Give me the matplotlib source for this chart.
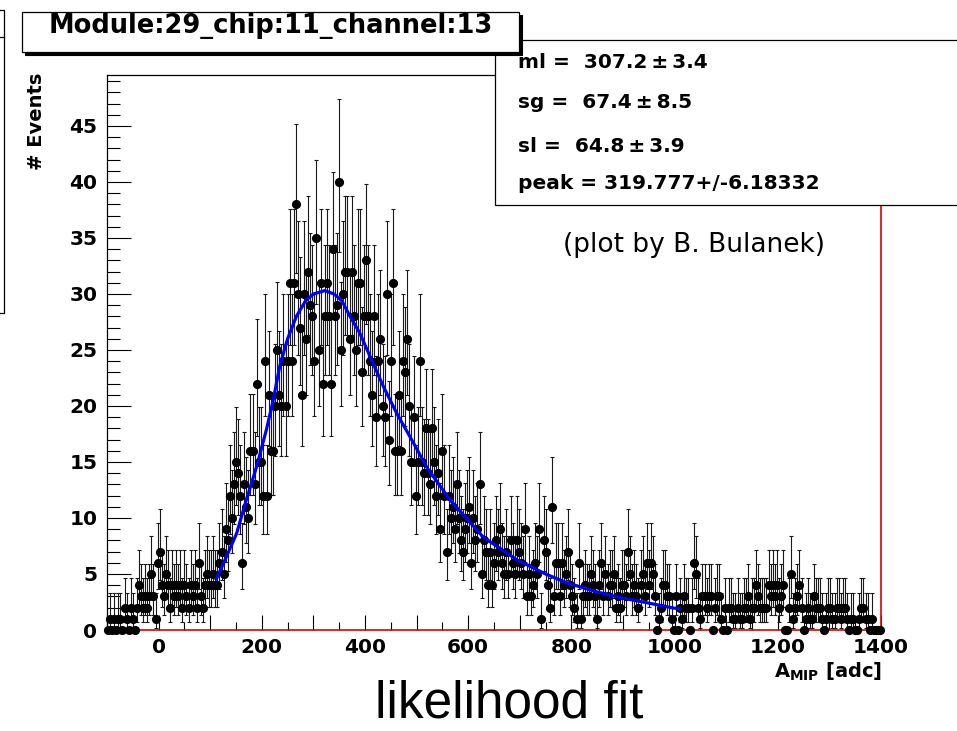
import numpy as np
import matplotlib
matplotlib.use("Agg")
import matplotlib.pyplot as plt
from matplotlib.patches import Rectangle
from matplotlib.lines import Line2D
from matplotlib.ticker import MultipleLocator, FuncFormatter

# ---------------- data ----------------
bin_lo = -100.0
bin_width = 4.0
counts_m100_0 = [0,1,0,1,0,1,1,0,2,1,0,2,1,0,2,4,3,2,3,2,3,5,3,1,6]
counts_0_100 = [7,4,3,5,4,2,4,3,4,3,4,2,4,3,2,4,3,4,2,6,3,2,4,5,4]
counts_100_200 = [4,5,4,4,6,7,5,9,8,12,10,13,15,14,12,6,13,11,10,16,16,13,22,15,15]
counts_200_300 = [12,24,12,21,16,16,20,25,21,20,24,20,24,31,24,31,38,30,27,21,30,26,32,29,28]
counts_300_400 = [24,35,25,31,22,28,31,28,22,34,28,29,40,25,30,32,32,26,32,28,25,31,31,23,28]
counts_400_500 = [33,28,24,21,28,19,24,26,20,19,30,17,24,31,16,16,21,16,24,23,26,20,15,19,12]
counts_500_600 = [15,24,15,14,18,14,13,18,15,12,14,9,16,12,7,12,10,11,9,13,10,8,7,9,10]
counts_600_700 = [11,6,10,8,9,13,5,8,7,4,7,4,6,8,7,9,6,5,7,5,8,6,5,8,7]
counts_700_800 = [6,5,9,3,5,3,4,6,5,9,1,8,7,4,2,11,3,6,6,3,6,4,5,7,4]
counts_800_900 = [3,2,1,6,1,3,4,3,3,5,4,3,1,4,6,3,5,3,4,4,5,2,3,2,4]
counts_900_1000 = [4,3,7,5,3,4,3,2,4,5,3,6,4,6,5,3,0,1,2,4,4,3,3,1,0]
counts_1000_1100 = [3,0,2,1,3,2,2,0,2,6,5,2,1,3,3,2,3,3,0,2,3,3,1,0,2]
counts_1100_1200 = [0,2,2,1,1,2,1,1,2,2,3,1,2,2,4,3,2,2,2,2,4,3,4,3,4]
counts_1200_1300 = [2,3,4,0,0,2,5,1,2,3,4,2,0,1,2,1,1,3,2,2,2,1,0,1,2]
counts_1300_1400 = [2,1,1,2,2,1,2,2,1,0,1,1,0,0,1,2,2,1,1,0,1,0,0,0,0]

fit_x = [112, 131, 151, 170, 190, 209, 222, 235, 250, 267, 285, 300, 322, 340,
         355, 371, 390, 410, 436, 462, 494, 520, 565, 629, 695, 750, 792, 850,
         889, 950, 998, 1010]
fit_y = [4.55, 6.5, 8.6, 11.6, 14.6, 17.9, 20.5, 23.6, 26.0, 28.0, 29.4, 30.0,
         30.3, 30.0, 29.4, 28.0, 26.5, 24.4, 21.7, 19.3, 16.7, 14.5, 11.6, 8.3,
         6.25, 5.0, 4.2, 3.4, 2.95, 2.4, 1.96, 1.9]

title_text = "Module:29_chip:11_channel:13"
stat_lines = ["ml =  307.2\u2009\u00b1\u20093.4",
              "sg =  67.4\u2009\u00b1\u20098.5",
              "sl =  64.8\u2009\u00b1\u20093.9",
              "peak = 319.777+/-6.18332"]
x_ticks_labelled = [0, 200, 400, 600, 800, 1000, 1200, 1400]

# ---------------- style ----------------
plt.rcParams['font.family'] = ['DejaVu Sans']
plt.rcParams['font.weight'] = 'bold'
plt.rcParams['mathtext.fontset'] = 'dejavusans'

W, H = 957, 731
fig = plt.figure(figsize=(W / 100, H / 100), dpi=100)
fig.patch.set_facecolor('white')

def fx(px):
    return px / W

def fy(py):
    return 1 - py / H

L, R, T, B = 107, 881, 75, 630
ax = fig.add_axes([fx(L), fy(B), (R - L) / W, (B - T) / H])

counts = np.array(counts_m100_0 + counts_0_100 + counts_100_200 + counts_200_300
                  + counts_300_400 + counts_400_500 + counts_500_600 + counts_600_700
                  + counts_700_800 + counts_800_900 + counts_900_1000 + counts_1000_1100
                  + counts_1100_1200 + counts_1200_1300 + counts_1300_1400, dtype=float)
centers = bin_lo + bin_width * (np.arange(len(counts)) + 0.5)

# Poisson (Garwood-like) asymmetric errors
nz = counts > 0
n = counts[nz]
lower = n - n * (1 - 1 / (9 * n) - 1 / (3 * np.sqrt(n))) ** 3
upper = (n + 1) * (1 - 1 / (9 * (n + 1)) + 1 / (3 * np.sqrt(n + 1))) ** 3 - n

ax.errorbar(centers[nz], n, yerr=[lower, upper], fmt='none', ecolor='#1a1a1a',
            elinewidth=0.8, capsize=1.7, capthick=0.8, zorder=2)
ax.plot(centers, counts, 'o', color='black', ms=6.6, mew=0, zorder=3, clip_on=False)
ax.plot(fit_x, fit_y, color='#0000ff', lw=2.3, zorder=4)

ax.set_xlim(-100, 1400)
ax.set_ylim(0, 49.55)

ax.xaxis.set_major_locator(MultipleLocator(100))
ax.xaxis.set_minor_locator(MultipleLocator(50))
ax.xaxis.set_major_formatter(FuncFormatter(
    lambda v, p: f"{int(round(v))}" if int(round(v)) in x_ticks_labelled else ""))
ax.yaxis.set_major_locator(MultipleLocator(5))
ax.yaxis.set_minor_locator(MultipleLocator(1))

ax.tick_params(axis='x', which='major', direction='in', length=10.8, width=0.8,
               top=False, labelsize=14.5, pad=6)
ax.tick_params(axis='x', which='minor', direction='in', length=5.8, width=0.8, top=False)
ax.tick_params(axis='y', which='major', direction='in', length=17, width=0.8,
               right=False, labelsize=14.5, pad=7)
ax.tick_params(axis='y', which='minor', direction='in', length=9, width=0.8, right=False)

ax.spines['left'].set_color('black')
ax.spines['left'].set_linewidth(0.9)
ax.spines['top'].set_color('black')
ax.spines['top'].set_linewidth(0.9)
ax.spines['bottom'].set_color('#e00000')
ax.spines['bottom'].set_linewidth(1.2)
ax.spines['right'].set_color('#e00000')
ax.spines['right'].set_linewidth(1.2)

# axis titles
fig.text(fx(37), fy(73), "# Events", rotation=90, ha='center', va='top', fontsize=14)
fig.text(fx(882), fy(678), r"$\mathbf{A}_{\mathbf{MIP}}$ [adc]", ha='right',
         va='baseline', fontsize=14)

# partial box at the left edge (neighbouring pad)
fig.add_artist(Rectangle((fx(-20), fy(313)), fx(3.5) - fx(-20), (313 - 10) / H,
                         transform=fig.transFigure, facecolor='none',
                         edgecolor='black', lw=0.9, zorder=5))
fig.add_artist(Line2D([fx(0), fx(3.5)], [fy(37), fy(37)], transform=fig.transFigure,
                      color='black', lw=0.9, zorder=5))

# stats box
fig.add_artist(Rectangle((fx(495), fy(205)), fx(990) - fx(495), (205 - 40) / H,
                         transform=fig.transFigure, facecolor='white',
                         edgecolor='black', lw=0.9, zorder=6))
for line, base in zip(stat_lines, [68, 108, 152, 189]):
    fig.text(fx(518), fy(base), line, ha='left', va='baseline', fontsize=14.5, zorder=7)

# title box with shadow
fig.add_artist(Rectangle((fx(25), fy(54.5)), (519 - 22) / W, (52 - 12) / H,
                         transform=fig.transFigure, facecolor='black',
                         edgecolor='black', lw=0.8, zorder=8))
fig.add_artist(Rectangle((fx(22), fy(52)), (519 - 22) / W, (52 - 12) / H,
                         transform=fig.transFigure, facecolor='white',
                         edgecolor='black', lw=0.9, zorder=9))
fig.text(fx(271), fy(33), title_text, ha='center', va='baseline', fontsize=18.5, zorder=10)

# annotations
fig.text(fx(694), fy(252), "(plot by B. Bulanek)", ha='center', va='baseline',
         fontsize=19, fontweight='normal', zorder=7)
fig.text(fx(509), fy(718), "likelihood fit", ha='center', va='baseline',
         fontsize=37, fontweight='normal', family=['Liberation Sans', 'DejaVu Sans'])

fig.savefig("out.png", dpi=100, facecolor='white')
